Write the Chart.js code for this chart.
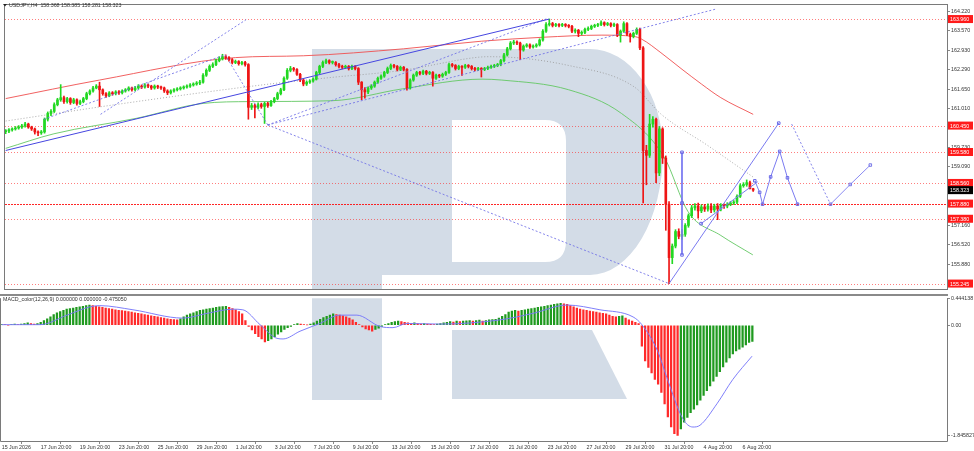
<!DOCTYPE html>
<html><head><meta charset="utf-8">
<script src="https://cdn.jsdelivr.net/npm/chart.js@4.4.1/dist/chart.umd.min.js"></script>
<style>
html,body{margin:0;padding:0;background:#fff;overflow:hidden}
#wrap{position:relative;width:974px;height:451px;background:#fff}
#c1{position:absolute;left:0;top:0}
#c2{position:absolute;left:0;top:294px}
</style></head>
<body><div id="wrap"><canvas id="c1" width="974" height="294"></canvas><canvas id="c2" width="974" height="157"></canvas></div>
<script>
// ---------- DATA ----------
const symbolTitle = 'USDJPY,H4';
const headerOHLC = ['158.368','158.385','158.281','158.323'];
const macdTitle = 'MACD_color(12,26,9) 0.000000 0.000000 -0.475050';

const tickIdx = [0,12,24,36,48,60,72,84,96,108,120,132,144,156,168,180,192,204,216,228];
const tickLabels = ['15 Jun 2026','17 Jun 20:00','19 Jun 20:00','23 Jun 20:00','25 Jun 20:00','29 Jun 20:00','1 Jul 20:00','3 Jul 20:00','7 Jul 20:00','9 Jul 20:00','13 Jul 20:00','15 Jul 20:00','17 Jul 20:00','21 Jul 20:00','23 Jul 20:00','27 Jul 20:00','29 Jul 20:00','31 Jul 20:00','4 Aug 20:00','6 Aug 20:00'];
const priceTicks = [164.22,163.57,162.93,162.29,161.65,161.01,160.37,159.73,159.09,158.45,157.80,157.16,156.52,155.88];
const macdTicks = [0.444138,0,-1.845827];
const macdTickLabels = ['0.444138','0.00','-1.845827'];

const opens = [160.25,160.27,160.31,160.34,160.37,160.40,160.44,160.50,160.40,160.34,
160.24,160.21,160.24,160.66,160.85,160.92,161.14,161.30,161.37,161.24,
161.34,161.21,161.30,161.18,161.24,161.34,161.50,161.59,161.69,161.75,
161.63,161.50,161.43,161.53,161.50,161.56,161.53,161.59,161.63,161.69,
161.63,161.69,161.75,161.72,161.79,161.75,161.69,161.75,161.72,161.69,
161.59,161.53,161.59,161.63,161.66,161.69,161.72,161.75,161.79,161.82,
161.85,161.88,162.11,162.27,162.40,162.46,162.59,162.65,162.72,162.69,
162.62,162.53,162.56,162.49,162.53,162.46,161.05,161.11,161.05,161.14,
161.08,161.18,161.11,161.24,161.34,161.50,161.63,162.01,162.27,162.33,
162.30,162.14,161.95,161.82,161.88,161.92,161.98,162.20,162.40,162.53,
162.59,162.53,162.53,162.46,162.40,162.37,162.40,162.33,162.40,162.33,
161.88,161.63,161.56,161.69,161.75,161.88,162.01,162.08,162.20,162.33,
162.43,162.40,162.30,162.37,162.30,161.69,161.95,162.11,162.20,162.17,
162.24,162.17,162.20,162.01,162.11,162.08,162.14,162.20,162.46,162.43,
162.33,162.40,162.37,162.43,162.40,162.33,162.30,162.33,162.30,162.33,
162.37,162.40,162.43,162.46,162.59,162.78,162.98,163.17,163.20,163.17,
162.94,163.07,163.11,163.04,163.07,163.11,163.27,163.56,163.78,163.81,
163.75,163.78,163.75,163.78,163.75,163.72,163.56,163.59,163.49,163.52,
163.62,163.65,163.72,163.75,163.78,163.84,163.78,163.81,163.75,163.78,
163.43,163.56,163.81,163.46,163.39,163.49,163.62,163.01,159.63,159.47,
160.50,160.66,158.89,160.34,159.38,157.86,156.10,156.48,156.96,156.80,
156.87,157.16,157.48,157.74,157.80,157.64,157.77,157.70,157.80,157.67,
157.80,157.70,157.83,157.80,157.86,157.90,157.93,158.12,158.47,158.51,
158.57,158.368];

const closes = [160.27,160.31,160.34,160.37,160.40,160.44,160.50,160.40,160.34,160.24,
160.21,160.24,160.66,160.85,160.92,161.14,161.30,161.37,161.24,161.34,
161.21,161.30,161.18,161.24,161.34,161.50,161.59,161.69,161.75,161.63,
161.50,161.43,161.53,161.50,161.56,161.53,161.59,161.63,161.69,161.63,
161.69,161.75,161.72,161.79,161.75,161.69,161.75,161.72,161.69,161.59,
161.53,161.59,161.63,161.66,161.69,161.72,161.75,161.79,161.82,161.85,
161.88,162.11,162.27,162.40,162.46,162.59,162.65,162.72,162.69,162.62,
162.53,162.56,162.49,162.53,162.46,161.05,161.11,161.05,161.14,161.08,
161.18,161.11,161.24,161.34,161.50,161.63,162.01,162.27,162.33,162.30,
162.14,161.95,161.82,161.88,161.92,161.98,162.20,162.40,162.53,162.59,
162.53,162.53,162.46,162.40,162.37,162.40,162.33,162.40,162.33,161.88,
161.63,161.56,161.69,161.75,161.88,162.01,162.08,162.20,162.33,162.43,
162.40,162.30,162.37,162.30,161.69,161.95,162.11,162.20,162.17,162.24,
162.17,162.20,162.01,162.11,162.08,162.14,162.20,162.46,162.43,162.33,
162.40,162.37,162.43,162.40,162.33,162.30,162.33,162.30,162.33,162.37,
162.40,162.43,162.46,162.59,162.78,162.98,163.17,163.20,163.17,162.94,
163.07,163.11,163.04,163.07,163.11,163.27,163.56,163.78,163.81,163.75,
163.78,163.75,163.78,163.75,163.72,163.56,163.59,163.49,163.52,163.62,
163.65,163.72,163.75,163.78,163.84,163.78,163.81,163.75,163.78,163.43,
163.56,163.81,163.46,163.39,163.49,163.62,163.01,159.63,159.47,160.50,
160.66,158.89,160.34,159.38,157.86,156.10,156.48,156.96,156.80,156.87,
157.16,157.48,157.74,157.80,157.64,157.77,157.70,157.80,157.67,157.80,
157.70,157.83,157.80,157.86,157.90,157.93,158.12,158.47,158.51,158.57,
158.368,158.323];

const highs = [160.32,160.35,160.38,160.42,160.45,160.49,160.56,160.53,160.43,160.37,
160.28,160.29,160.70,160.90,160.98,161.20,161.35,161.80,161.42,161.38,
161.37,161.35,161.33,161.29,161.38,161.55,161.63,161.74,161.80,161.88,
161.66,161.54,161.57,161.57,161.60,161.60,161.63,161.67,161.73,161.72,
161.74,161.80,161.79,161.83,161.82,161.78,161.79,161.78,161.75,161.72,
161.63,161.63,161.67,161.70,161.73,161.76,161.79,161.83,161.86,161.90,
161.94,162.16,162.32,162.45,162.52,162.64,162.72,162.80,162.78,162.72,
162.66,162.61,162.59,162.57,162.57,162.49,161.18,161.16,161.20,161.19,
161.22,161.22,161.28,161.38,161.55,161.68,162.06,162.33,162.40,162.37,
162.33,162.17,161.98,161.92,161.96,162.02,162.24,162.44,162.58,162.64,
162.62,162.58,162.56,162.50,162.44,162.44,162.43,162.44,162.43,162.36,
161.90,161.70,161.73,161.80,161.92,162.05,162.12,162.24,162.38,162.48,
162.47,162.43,162.41,162.40,162.33,161.99,162.15,162.24,162.24,162.28,
162.27,162.24,162.23,162.15,162.14,162.18,162.24,162.51,162.50,162.46,
162.44,162.43,162.47,162.46,162.43,162.37,162.37,162.36,162.37,162.41,
162.44,162.47,162.50,162.63,162.83,163.03,163.22,163.26,163.24,163.20,
163.11,163.15,163.14,163.11,163.15,163.31,163.61,163.84,163.96,163.85,
163.82,163.81,163.82,163.81,163.78,163.75,163.64,163.62,163.57,163.66,
163.70,163.76,163.79,163.82,163.90,163.87,163.85,163.84,163.83,163.81,
163.60,163.87,163.84,163.50,163.53,163.67,163.66,163.05,159.80,160.82,
160.75,160.70,160.42,160.38,159.45,157.95,156.55,157.02,157.05,157.02,
157.22,157.54,157.82,157.88,157.90,157.84,157.85,157.87,157.88,157.86,
157.88,157.88,157.87,157.91,157.95,157.98,158.17,158.53,158.57,158.66,
158.62,158.385];

const lows = [160.18,160.22,160.27,160.30,160.33,160.36,160.40,160.36,160.29,160.17,
160.12,160.16,160.20,160.60,160.78,160.88,161.10,161.25,161.18,161.19,
161.15,161.17,161.12,161.14,161.20,161.30,161.46,161.55,161.66,161.08,
161.45,161.38,161.40,161.45,161.46,161.48,161.49,161.55,161.59,161.58,
161.59,161.65,161.67,161.68,161.70,161.64,161.65,161.67,161.64,161.54,
161.47,161.49,161.55,161.59,161.62,161.65,161.68,161.71,161.75,161.78,
161.80,161.85,162.07,162.23,162.36,162.42,162.55,162.61,162.63,162.57,
162.48,162.49,162.44,162.45,162.41,160.66,160.98,160.70,161.00,161.02,
160.52,161.05,161.08,161.20,161.30,161.46,161.60,161.97,162.22,162.24,
162.10,161.90,161.76,161.77,161.84,161.88,161.95,162.16,162.36,162.49,
162.48,162.48,162.41,162.35,162.32,162.33,162.28,162.29,162.28,161.80,
161.30,161.35,161.50,161.64,161.71,161.84,161.97,162.04,162.16,162.29,
162.35,162.25,162.26,162.25,161.62,161.65,161.91,162.07,162.12,162.13,
162.12,162.13,161.75,161.97,162.03,162.04,162.10,162.17,162.38,162.28,
162.29,162.10,162.33,162.35,162.28,162.25,162.26,162.05,162.26,162.29,
162.33,162.36,162.39,162.42,162.55,162.74,162.94,163.12,163.12,162.62,
162.90,163.03,162.99,163.00,163.03,163.07,163.23,163.52,163.73,163.70,
163.71,163.70,163.71,163.70,163.67,163.51,163.50,163.38,163.44,163.48,
163.58,163.61,163.68,163.71,163.74,163.73,163.74,163.70,163.71,163.38,
163.20,163.52,163.41,163.20,163.34,163.45,162.95,157.90,158.50,159.40,
160.40,158.57,158.80,159.20,157.00,155.245,155.90,156.42,156.72,156.70,
156.80,157.10,157.42,157.66,157.40,157.58,157.62,157.63,157.58,157.60,
157.35,157.64,157.72,157.74,157.81,157.85,157.88,158.08,158.42,158.45,
158.36,158.281];

const macdHist = [0.01,0.01,0.00,0.01,0.02,0.01,0.02,0.03,0.04,0.03,
0.02,0.03,0.05,0.08,0.11,0.14,0.18,0.21,0.23,0.25,
0.27,0.28,0.29,0.30,0.31,0.32,0.33,0.34,0.33,0.32,
0.31,0.30,0.29,0.28,0.27,0.26,0.25,0.245,0.24,0.23,
0.22,0.21,0.20,0.19,0.18,0.17,0.16,0.15,0.14,0.13,
0.12,0.11,0.10,0.095,0.09,0.11,0.14,0.17,0.19,0.21,
0.23,0.25,0.26,0.27,0.28,0.29,0.30,0.31,0.315,0.32,
0.30,0.28,0.26,0.23,0.19,0.08,-0.02,-0.08,-0.14,-0.19,
-0.23,-0.28,-0.26,-0.23,-0.19,-0.15,-0.11,-0.07,-0.04,-0.02,
0.01,0.03,0.02,0.01,0.005,0.02,0.04,0.07,0.10,0.13,
0.15,0.17,0.19,0.18,0.17,0.16,0.14,0.12,0.09,0.05,
0.01,-0.03,-0.06,-0.08,-0.10,-0.07,-0.05,-0.02,0.01,0.03,
0.05,0.06,0.07,0.06,0.05,0.04,0.03,0.04,0.03,0.02,
0.03,0.02,0.015,0.01,0.02,0.03,0.04,0.05,0.06,0.055,
0.07,0.06,0.07,0.075,0.08,0.07,0.08,0.085,0.07,0.08,
0.09,0.095,0.10,0.12,0.15,0.18,0.22,0.24,0.25,0.24,
0.25,0.26,0.27,0.28,0.29,0.30,0.31,0.32,0.33,0.34,
0.35,0.36,0.37,0.36,0.35,0.33,0.31,0.29,0.27,0.26,
0.25,0.24,0.23,0.22,0.21,0.20,0.19,0.17,0.15,0.14,
0.15,0.16,0.12,0.09,0.07,0.05,0.03,-0.35,-0.60,-0.71,
-0.80,-0.91,-0.99,-1.13,-1.32,-1.54,-1.71,-1.82,-1.85,-1.74,
-1.63,-1.55,-1.47,-1.41,-1.34,-1.26,-1.18,-1.10,-1.02,-0.94,
-0.86,-0.78,-0.70,-0.62,-0.55,-0.48,-0.43,-0.40,-0.37,-0.33,
-0.29,-0.27];

const sigIdx = [0,11.8,20.1,27.2,30.2,40.4,55.8,63.2,71.2,74.2,79.5,84.7,86.6,91.8,97.9,104,109.3,116.4,120.4,124.7,134.9,153.3,163.5,174,184.1,194.3,197,201.9,204.7,209.6,212.7,214.9,220.1,225,230.9];
const sigVal = [0.01,0.01,0.17,0.31,0.33,0.26,0.12,0.20,0.27,0.26,0.01,-0.22,-0.23,-0.10,0.03,0.17,0.17,-0.02,-0.04,0.03,0.02,0.09,0.20,0.34,0.26,0.14,0.01,-0.44,-0.88,-1.57,-1.71,-1.68,-1.32,-0.91,-0.52];

const redMAIdx = [0,29,71,92,123,147,166,184,194,196.5,202.5,208.7,215,221,231];
const redMAVal = [161.34,161.95,162.69,162.75,162.98,163.23,163.36,163.43,163.39,163.30,162.85,162.33,161.82,161.37,160.82];
const greenMAIdx = [0,14.9,40.4,61,75.5,101,122.6,147.2,153.3,174,190.3,203.5,210.9,221,230.9];
const greenMAVal = [159.70,160.18,160.69,161.18,161.24,161.27,161.66,161.98,161.95,161.63,160.85,159.41,157.61,156.83,156.19];
const grayMAIdx = [0,40.4,81.6,101,122.6,145,149.3,174,194.3,202.6,217,230.9];
const grayMAVal = [160.60,161.24,161.82,162.04,162.27,162.69,162.72,162.43,161.72,160.82,159.79,158.76];

const levelVals = [163.960,160.450,159.580,158.560,157.880,157.380,155.245];
const levelLabels = ['163.960','160.450','159.580','158.560','157.880','157.380','155.245'];
const lastPrice = 158.323;

// drawn objects: [bar index, price]
const trendSolid = [[0,159.63],[168,163.96]];
const trendDotted = [
  [[11.8,160.66],[67.8,162.78]],
  [[29.3,160.82],[74.3,163.94]],
  [[67.8,162.78],[81,160.47]],
  [[81,160.47],[205,155.245]],
  [[81,160.47],[167.2,163.97]],
  [[81,160.47],[219.5,164.29]],
  [[242.9,160.50],[254.9,157.86]]
];
const forecastMain = [[205,155.245],[238.9,160.53]];
const forecastZig = [[231.5,158.63],[233,158.25],[233.9,157.86],[236.4,158.76],[239.2,159.60],[241.6,158.73],[244.7,157.86]];
const forecastTail = [[254.9,157.86],[261,158.51],[267.2,159.15]];
const forecastVert = [[209,159.57],[209,157.90],[209,156.19]];
const forecastDiag = [[214.9,157.22],[232.4,158.60]];

// ---------- SETUP ----------
const XMIN = -0.215, XMAX = 290.9;
const FONT = {family:'Liberation Sans', size:5.3};
const TXT = '#333333';
const UP = '#22d822', DN = '#ee1515';
const WM = '#d3dce7';
Chart.defaults.font.family = FONT.family;
Chart.defaults.font.size = FONT.size;

const idx = closes.map((_, i) => i);
const candleCol = closes.map((c, i) => c >= opens[i] ? UP : DN);
const pts = (xs, ys) => xs.map((x, i) => ({x, y: ys[i]}));
const seg = a => a.map(p => ({x: p[0], y: p[1]}));

function drawWatermark(ctx, area, offY) {
  ctx.save();
  ctx.beginPath(); ctx.rect(area.left, area.top, area.right - area.left, area.bottom - area.top); ctx.clip();
  ctx.translate(0, -offY);
  ctx.fillStyle = WM;
  ctx.fillRect(312, 49, 70, 351);
  ctx.beginPath();
  ctx.moveTo(382, 49); ctx.lineTo(590, 49);
  ctx.ellipse(590, 151, 73, 102, 0, -Math.PI / 2, 0, false);
  ctx.ellipse(590, 151, 73, 124, 0, 0, Math.PI / 2, false);
  ctx.lineTo(382, 275); ctx.closePath();
  ctx.moveTo(452, 120); ctx.lineTo(545, 120); ctx.quadraticCurveTo(566, 120, 566, 141);
  ctx.lineTo(566, 241); ctx.quadraticCurveTo(566, 262, 545, 262); ctx.lineTo(452, 262); ctx.closePath();
  ctx.fill('evenodd');
  ctx.beginPath();
  ctx.moveTo(452, 330); ctx.lineTo(592, 330); ctx.lineTo(627, 399); ctx.lineTo(452, 399); ctx.closePath();
  ctx.fill();
  ctx.restore();
}

const mainPlugin = {
  id: 'mainDeco',
  beforeDatasetsDraw(chart) {
    const {ctx, chartArea: a, scales} = chart;
    drawWatermark(ctx, a, 0);
    ctx.save();
    levelVals.forEach((v, k) => {
      const y = Math.round(scales.y.getPixelForValue(v)) + 0.5;
      ctx.strokeStyle = k === 4 ? 'rgba(255,0,0,0.85)' : 'rgba(255,40,40,0.6)';
      ctx.setLineDash(k === 4 ? [2, 1] : [1, 2]);
      ctx.lineWidth = 1;
      ctx.beginPath(); ctx.moveTo(a.left, y); ctx.lineTo(a.right, y); ctx.stroke();
    });
    ctx.restore();
  },
  afterDraw(chart) {
    const {ctx, chartArea: a, scales} = chart;
    ctx.save();
    ctx.strokeStyle = '#7a7a7a'; ctx.lineWidth = 1; ctx.setLineDash([]);
    ctx.strokeRect(a.left - 0.5, a.top - 0.5, a.right - a.left + 1, a.bottom - a.top + 1);
    ctx.font = FONT.size + 'px ' + FONT.family;
    ctx.textBaseline = 'middle';
    const box = (v, txt, bg) => {
      const y = scales.y.getPixelForValue(v);
      ctx.fillStyle = bg; ctx.fillRect(a.right + 1, y - 4, 25, 8);
      ctx.fillStyle = '#ffffff'; ctx.textAlign = 'left'; ctx.fillText(txt, a.right + 3, y + 0.5);
    };
    levelVals.forEach((v, k) => box(v, levelLabels[k], '#ff1a1a'));
    box(lastPrice, lastPrice.toFixed(3), '#000000');
    // header
    ctx.fillStyle = '#222';
    ctx.beginPath(); ctx.moveTo(3, 4); ctx.lineTo(7, 4); ctx.lineTo(5, 6.5); ctx.closePath(); ctx.fill();
    ctx.fillStyle = TXT; ctx.textAlign = 'left';
    ctx.fillText(symbolTitle + '  ' + headerOHLC.join(' '), 9, 5.5);
    ctx.restore();
  }
};

const macdPlugin = {
  id: 'macdDeco',
  beforeDatasetsDraw(chart) {
    drawWatermark(chart.ctx, chart.chartArea, 294);
  },
  afterDraw(chart) {
    const {ctx, chartArea: a} = chart;
    ctx.save();
    ctx.fillStyle = '#8a8a8a'; ctx.fillRect(0, 0, a.right + 1, 2);
    ctx.strokeStyle = '#7a7a7a'; ctx.lineWidth = 1;
    ctx.beginPath();
    ctx.moveTo(a.left - 0.5, a.top); ctx.lineTo(a.left - 0.5, a.bottom + 0.5);
    ctx.lineTo(a.right + 0.5, a.bottom + 0.5); ctx.lineTo(a.right + 0.5, a.top);
    ctx.stroke();
    ctx.font = FONT.size + 'px ' + FONT.family;
    ctx.fillStyle = TXT; ctx.textBaseline = 'middle'; ctx.textAlign = 'left';
    ctx.fillText(macdTitle, 3, 5.5);
    ctx.restore();
  }
};

const lineDs = (data, color, extra) => Object.assign({
  type: 'line', data, borderColor: color, borderWidth: 1, pointRadius: 0,
  fill: false, tension: 0, order: 1
}, extra || {});

const mainDatasets = [
  lineDs(pts(redMAIdx, redMAVal), 'rgba(240,80,80,0.9)', {cubicInterpolationMode: 'monotone', order: 6}),
  lineDs(pts(greenMAIdx, greenMAVal), 'rgba(100,200,100,0.9)', {cubicInterpolationMode: 'monotone', order: 6}),
  lineDs(pts(grayMAIdx, grayMAVal), 'rgba(150,150,150,0.8)', {cubicInterpolationMode: 'monotone', borderDash: [1, 2], order: 6}),
  {type: 'bar', data: idx.map(i => ({x: i, y: [lows[i], highs[i]]})), backgroundColor: candleCol,
   barThickness: 1, grouped: false, minBarLength: 1, order: 5},
  {type: 'bar', data: idx.map(i => ({x: i, y: [opens[i], closes[i]]})), backgroundColor: candleCol,
   barThickness: 2, grouped: false, minBarLength: 1, order: 4},
  lineDs(seg(trendSolid), '#4646e0'),
  ...trendDotted.map(s => lineDs(seg(s), 'rgba(110,110,230,0.85)', {borderDash: [2, 2]})),
  lineDs(seg(forecastMain), '#7a7af0', {pointRadius: [0, 1.8], pointStyle: 'rect', pointBorderColor: '#6a6ae8', pointBackgroundColor: 'rgba(255,255,255,0)'}),
  lineDs(seg(forecastZig), '#7a7af0', {pointRadius: 1.8, pointStyle: 'rect', pointBorderColor: '#6a6ae8', pointBackgroundColor: 'rgba(255,255,255,0)'}),
  lineDs(seg(forecastTail), '#8a8af2', {pointRadius: 1.8, pointStyle: 'rect', pointBorderColor: '#7a7ae8', pointBackgroundColor: 'rgba(255,255,255,0)'}),
  lineDs(seg(forecastVert), '#7a7af0', {pointRadius: 1.8, pointStyle: 'rect', pointBorderColor: '#6a6ae8', pointBackgroundColor: 'rgba(255,255,255,0)'}),
  lineDs(seg(forecastDiag), '#7a7af0', {pointRadius: [1.8, 0], pointStyle: 'rect', pointBorderColor: '#6a6ae8', pointBackgroundColor: 'rgba(255,255,255,0)'})
];

new Chart(document.getElementById('c1'), {
  type: 'bar',
  data: {datasets: mainDatasets},
  options: {
    responsive: false, animation: false, events: [],
    layout: {padding: {left: 1, top: 1, right: 0, bottom: 2}},
    plugins: {legend: {display: false}, tooltip: {enabled: false}},
    scales: {
      x: {type: 'linear', min: XMIN, max: XMAX, display: false, offset: false},
      y: {
        position: 'right', min: 155.066, max: 164.423,
        afterFit(s) { s.width = 27; },
        afterBuildTicks(s) { s.ticks = priceTicks.map(v => ({value: v})); },
        ticks: {callback: v => Number(v).toFixed(3), color: TXT, padding: 1, autoSkip: false, font: FONT},
        grid: {drawOnChartArea: false, drawTicks: true, tickLength: 3, color: '#888'},
        border: {display: false}
      }
    }
  },
  plugins: [mainPlugin]
});

const macdCol = macdHist.map((v, i) => (i === 0 || v > macdHist[i - 1]) ? '#1f9a1f' : '#ff2a2a');

new Chart(document.getElementById('c2'), {
  type: 'bar',
  data: {datasets: [
    lineDs(pts(sigIdx, sigVal), 'rgba(120,120,250,0.95)', {cubicInterpolationMode: 'monotone', order: 1}),
    {type: 'bar', data: idx.map(i => ({x: i, y: macdHist[i]})), backgroundColor: macdCol,
     barThickness: 1.6, grouped: false, order: 2}
  ]},
  options: {
    responsive: false, animation: false, events: [],
    layout: {padding: {left: 1, top: 2, right: 0, bottom: 0}},
    plugins: {legend: {display: false}, tooltip: {enabled: false}},
    scales: {
      x: {
        type: 'linear', min: XMIN, max: XMAX, position: 'bottom', offset: false,
        afterFit(s) { s.height = 10; },
        afterBuildTicks(s) { s.ticks = tickIdx.map(v => ({value: v})); },
        ticks: {callback: (v, i) => tickLabels[i], align: 'start', maxRotation: 0, minRotation: 0,
                autoSkip: false, color: TXT, padding: 0, font: FONT},
        grid: {drawOnChartArea: false, drawTicks: true, tickLength: 3, color: '#888'},
        border: {display: false}
      },
      y: {
        position: 'right', min: -1.945, max: 0.455,
        afterFit(s) { s.width = 27; },
        afterBuildTicks(s) { s.ticks = macdTicks.map(v => ({value: v})); },
        ticks: {callback: (v, i) => macdTickLabels[i], color: TXT, padding: 1, autoSkip: false, font: FONT},
        grid: {drawOnChartArea: false, drawTicks: true, tickLength: 3, color: '#888'},
        border: {display: false}
      }
    }
  },
  plugins: [macdPlugin]
});
</script>
</body></html>
